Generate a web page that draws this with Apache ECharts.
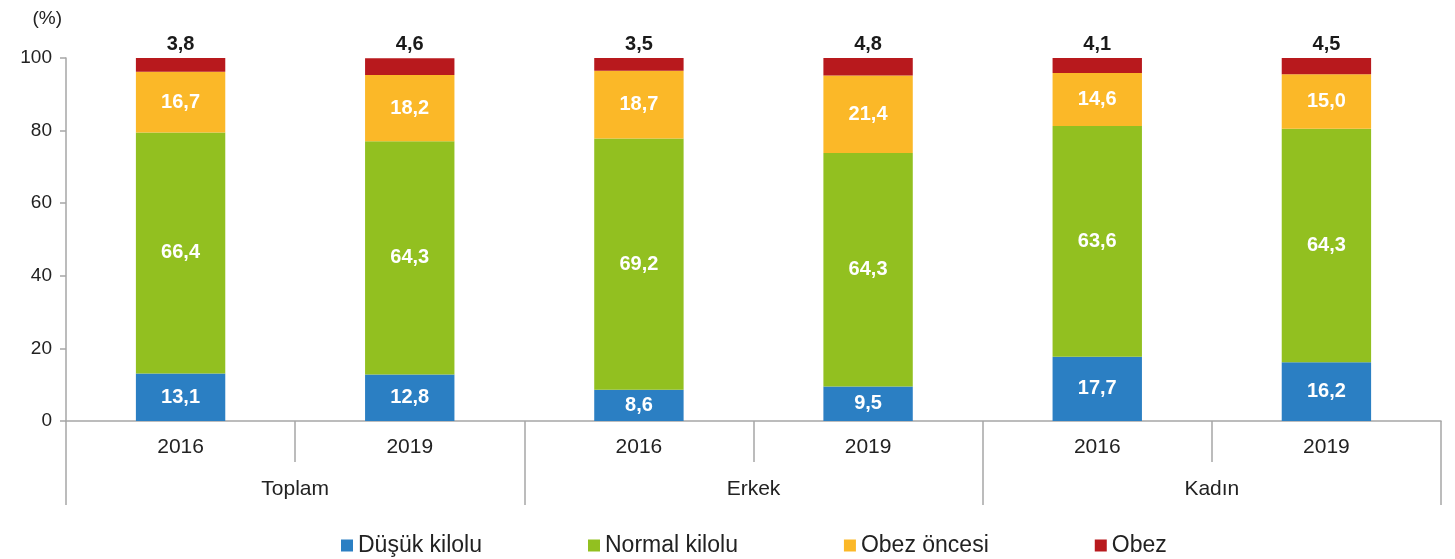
<!DOCTYPE html>
<html>
<head>
<meta charset="utf-8">
<script src="https://cdn.jsdelivr.net/npm/echarts@6/dist/echarts.min.js"></script>
<style>
  html, body { margin: 0; padding: 0; background: #fff; }
  #main { width: 1455px; height: 559px; }
</style>
</head>
<body>
<div id="main"></div>
<script>
// veriler
var years = ['2016', '2019', '2016', '2019', '2016', '2019'];
var groups = ['Toplam', 'Erkek', 'Kadın'];
var dusuk = [13.1, 12.8, 8.6, 9.5, 17.7, 16.2];
var normal = [66.4, 64.3, 69.2, 64.3, 63.6, 64.3];
var obezOncesi = [16.7, 18.2, 18.7, 21.4, 14.6, 15.0];
var obez = [3.8, 4.6, 3.5, 4.8, 4.1, 4.5];

var font = 'Liberation Sans, Arial, sans-serif';
var axisColor = '#a6a6a6';

function fmt(p) {
  return p.value.toFixed(1).replace('.', ',');
}

function barSeries(name, data, color, top) {
  return {
    name: name,
    type: 'bar',
    stack: 'toplam',
    barWidth: '39%',
    data: data,
    itemStyle: { color: color },
    label: {
      show: true,
      position: top ? 'top' : 'inside',
      distance: 4,
      formatter: fmt,
      color: top ? '#1a1a1a' : '#ffffff',
      fontFamily: font,
      fontWeight: 'bold',
      fontSize: 20
    }
  };
}

var chart = echarts.init(document.getElementById('main'));
var option = {
  animation: false,
  grid: { left: 66, right: 14, top: 58, bottom: 138 },
  legend: {
    top: 529,
    left: 336,
    itemGap: 106,
    itemWidth: 12,
    itemHeight: 12,
    icon: 'rect',
    textStyle: { fontFamily: font, fontSize: 23, color: '#222' },
    data: ['Düşük kilolu', 'Normal kilolu', 'Obez öncesi', 'Obez']
  },
  xAxis: [{
    type: 'category',
    data: years,
    axisLine: { lineStyle: { color: axisColor, width: 1.5 } },
    axisTick: { show: true, length: 41, interval: 0, lineStyle: { color: axisColor, width: 1.5 } },
    axisLabel: { margin: 16, fontFamily: font, fontSize: 21, color: '#222' }
  }, {
    type: 'category',
    position: 'bottom',
    data: groups,
    axisLine: { show: false },
    axisTick: { show: true, length: 84, interval: 0, lineStyle: { color: axisColor, width: 1.5 } },
    axisLabel: { margin: 58, fontFamily: font, fontSize: 21, color: '#222' }
  }],
  yAxis: {
    type: 'value',
    min: 0,
    max: 100,
    interval: 20,
    name: '(%)',
    nameGap: 30,
    nameTextStyle: { fontFamily: font, fontSize: 19, color: '#222', align: 'right', padding: [0, 4, 0, 0] },
    axisLine: { show: true, lineStyle: { color: axisColor, width: 1.5 } },
    axisTick: { show: true, length: 6, lineStyle: { color: axisColor, width: 1.5 } },
    splitLine: { show: false },
    axisLabel: { margin: 14, fontFamily: font, fontSize: 19, color: '#222' }
  },
  series: [
    barSeries('Düşük kilolu', dusuk, '#2b7fc3', false),
    barSeries('Normal kilolu', normal, '#92c020', false),
    barSeries('Obez öncesi', obezOncesi, '#fbb828', false),
    barSeries('Obez', obez, '#b8191d', true)
  ]
};
chart.setOption(option);
</script>
</body>
</html>
